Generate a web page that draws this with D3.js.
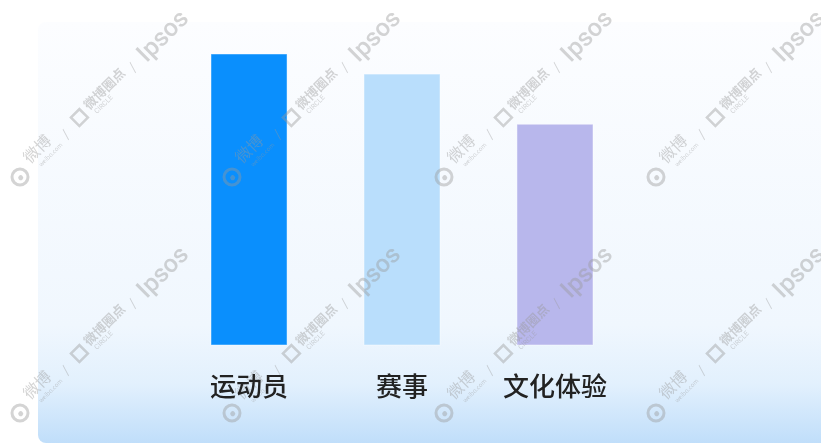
<!DOCTYPE html>
<html>
<head>
<meta charset="utf-8">
<script src="https://cdn.jsdelivr.net/npm/d3@7"></script>
<style>
  html, body { margin: 0; padding: 0; background: #fff; }
  svg { display: block; }
</style>
</head>
<body>
<svg id="chart" width="821" height="444"></svg>
<script>
// データ
const categories = ["运动员", "赛事", "文化体验"];
const values = [0.58, 0.54, 0.44];
const barColors = ["#0a8ffd", "#b9defc", "#b8b7ec"];

const width = 821, height = 444;
const svg = d3.select("#chart");

// 背景グラデーション
const defs = svg.append("defs");
const grad = defs.append("linearGradient")
    .attr("id", "bg-grad")
    .attr("x1", 0).attr("y1", 0).attr("x2", 0).attr("y2", 1);
grad.append("stop").attr("offset", "0%").attr("stop-color", "#fcfdff");
grad.append("stop").attr("offset", "72%").attr("stop-color", "#f0f7fe");
grad.append("stop").attr("offset", "86%").attr("stop-color", "#e2f0fd");
grad.append("stop").attr("offset", "100%").attr("stop-color", "#c0defa");

svg.append("rect")
    .attr("x", 38).attr("y", 22)
    .attr("width", width).attr("height", 421)
    .attr("rx", 8)
    .attr("fill", "url(#bg-grad)");

// スケール
const x = d3.scaleBand()
    .domain(categories)
    .range([211, 593])
    .paddingInner(0.503)
    .paddingOuter(0);

const y = d3.scaleLinear()
    .domain([0, d3.max(values)])
    .range([345, 54]);

const data = categories.map((c, i) => ({ name: c, value: values[i], color: barColors[i] }));

// 棒の描画
svg.selectAll("rect.bar")
    .data(data)
    .enter().append("rect")
    .attr("class", "bar")
    .attr("x", d => x(d.name))
    .attr("y", d => y(d.value))
    .attr("width", x.bandwidth())
    .attr("height", d => y(0) - y(d.value))
    .attr("fill", d => d.color)
    .attr("stroke", "rgba(255,255,255,0.45)")
    .attr("stroke-width", 1);

// 透かし
const wm = svg.append("g").attr("class", "watermark")
    .attr("fill", "#9a9a9a").attr("stroke", "none").attr("opacity", 0.42)
    .style("font-family", "'Noto Sans CJK SC', 'Noto Sans', sans-serif");

for (let j = 0; j < 2; j++) {
    for (let i = 0; i < 4; i++) {
        const t = wm.append("g")
            .attr("transform", `translate(${20 + 212 * i},${177 + 236 * j}) rotate(-45)`);
        // weiboアイコン
        t.append("circle").attr("cx", 0).attr("cy", 0).attr("r", 8)
            .attr("fill", "none").attr("stroke", "#9a9a9a").attr("stroke-width", 3);
        t.append("circle").attr("cx", 0).attr("cy", 1).attr("r", 2.5);
        t.append("text").attr("x", 16).attr("y", -2)
            .style("font-size", "16px").text("微博");
        t.append("text").attr("x", 22).attr("y", 8)
            .style("font-size", "6px").text("weibo.com");
        t.append("text").attr("x", 60).attr("y", 6)
            .style("font-size", "12px").text("/");
        // CIRCLEアイコン
        t.append("rect").attr("x", 78).attr("y", -6).attr("width", 12).attr("height", 12)
            .attr("fill", "none").attr("stroke", "#9a9a9a").attr("stroke-width", 2.5);
        t.append("text").attr("x", 96).attr("y", 2)
            .style("font-size", "13px").style("font-weight", "bold").text("微博圈点");
        t.append("text").attr("x", 99).attr("y", 10)
            .style("font-size", "7px").style("font-family", "Roboto, sans-serif").text("CIRCLE");
        t.append("text").attr("x", 155).attr("y", 6)
            .style("font-size", "12px").text("/");
        t.append("text").attr("x", 170).attr("y", 9)
            .style("font-size", "25px").style("font-family", "Roboto, sans-serif")
            .style("font-weight", "500").text("Ipsos");
    }
}

// カテゴリラベル
svg.selectAll("text.label")
    .data(data)
    .enter().append("text")
    .attr("class", "label")
    .attr("x", d => x(d.name) + x.bandwidth() / 2)
    .attr("y", 396)
    .attr("text-anchor", "middle")
    .style("font-family", "'Noto Sans CJK SC', sans-serif")
    .style("font-size", "26px")
    .style("font-weight", "500")
    .attr("fill", "#222")
    .text(d => d.name);
</script>
</body>
</html>
